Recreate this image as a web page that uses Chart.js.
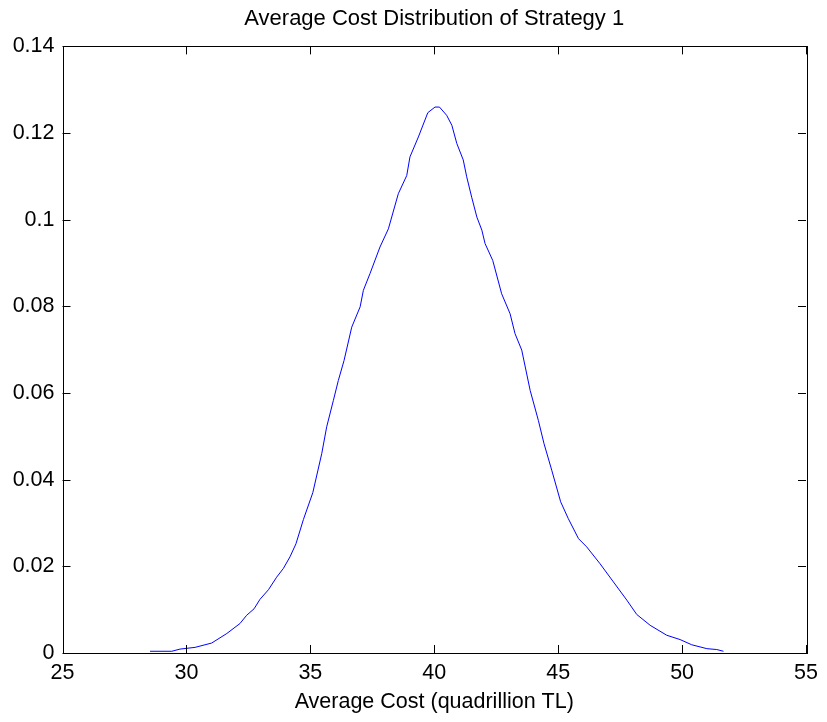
<!DOCTYPE html>
<html>
<head>
<meta charset="utf-8">
<title>Average Cost Distribution of Strategy 1</title>
<script src="https://cdn.jsdelivr.net/npm/chart.js@4.4.1/dist/chart.umd.min.js"></script>
<style>
  html, body { margin: 0; padding: 0; background: #fff; }
  #costChart { display: block; }
</style>
</head>
<body>
<canvas id="costChart" width="827" height="722"></canvas>
<script>
// average cost (quadrillion TL) and its estimated density
const costX = [
  28.53, 29.41, 29.74, 30.35, 31.02, 31.63, 32.16, 32.43, 32.73, 32.97,
  33.31, 33.64, 33.91, 34.18, 34.42, 34.72, 35.10, 35.46, 35.66, 35.93,
  36.13, 36.36, 36.67, 37.01, 37.14, 37.41, 37.81, 38.15, 38.55, 38.89,
  39.02, 39.36, 39.74, 40.03, 40.21, 40.50, 40.71, 40.91, 41.17, 41.31,
  41.51, 41.72, 41.92, 42.05, 42.36, 42.72, 43.06, 43.26, 43.53, 43.87,
  44.20, 44.43, 44.74, 45.10, 45.41, 45.82, 46.15, 46.69, 47.23, 47.77,
  48.17, 48.71, 49.38, 49.92, 50.39, 51.00, 51.40, 51.67
];
const density = [
  0.0004, 0.0004, 0.0009, 0.0013, 0.0023, 0.0045, 0.0068, 0.0087, 0.0102, 0.0124,
  0.0146, 0.0175, 0.0195, 0.0222, 0.0252, 0.0308, 0.0370, 0.0460, 0.0522, 0.0583,
  0.0629, 0.0675, 0.0752, 0.0799, 0.0837, 0.0876, 0.0937, 0.0979, 0.1060, 0.1102,
  0.1145, 0.1191, 0.1247, 0.1260, 0.1260, 0.1241, 0.1218, 0.1176, 0.1138, 0.1099,
  0.1052, 0.1006, 0.0976, 0.0945, 0.0906, 0.0829, 0.0783, 0.0737, 0.0699, 0.0606,
  0.0537, 0.0483, 0.0422, 0.0349, 0.0310, 0.0264, 0.0245, 0.0206, 0.0164, 0.0122,
  0.0089, 0.0064, 0.0041, 0.0031, 0.0019, 0.0010, 0.0008, 0.0004
];

const xTickValues = [25, 30, 35, 40, 45, 50, 55];
const xTickLabels = ['25', '30', '35', '40', '45', '50', '55'];
const yTickValues = [0, 0.02, 0.04, 0.06, 0.08, 0.1, 0.12, 0.14];
const yTickLabels = ['0', '0.02', '0.04', '0.06', '0.08', '0.1', '0.12', '0.14'];

const FONT = '"Liberation Sans", Arial, Helvetica, sans-serif';
const TICK_LEN = 8;

// closed axes box with tick marks pointing inwards on all four sides
const boxTicks = {
  id: 'boxTicks',
  afterDatasetsDraw(chart) {
    const { ctx, chartArea: a, scales: { x, y } } = chart;
    ctx.save();
    ctx.strokeStyle = '#000';
    ctx.lineWidth = 1;
    ctx.beginPath();
    x.ticks.forEach(t => {
      const px = Math.round(x.getPixelForValue(t.value)) + 0.5;
      ctx.moveTo(px, a.bottom);
      ctx.lineTo(px, a.bottom - TICK_LEN);
      ctx.moveTo(px, a.top);
      ctx.lineTo(px, a.top + TICK_LEN);
    });
    y.ticks.forEach(t => {
      const py = Math.round(y.getPixelForValue(t.value)) + 0.5;
      ctx.moveTo(a.left, py);
      ctx.lineTo(a.left + TICK_LEN, py);
      ctx.moveTo(a.right, py);
      ctx.lineTo(a.right - TICK_LEN, py);
    });
    ctx.stroke();
    ctx.strokeRect(Math.round(a.left) + 0.5, Math.round(a.top) + 0.5,
      Math.round(a.right - a.left), Math.round(a.bottom - a.top));
    ctx.restore();
  }
};

new Chart(document.getElementById('costChart'), {
  type: 'scatter',
  data: {
    datasets: [{
      data: costX.map((c, i) => ({ x: c, y: density[i] })),
      showLine: true,
      borderColor: '#0000ff',
      borderWidth: 1,
      pointRadius: 0,
      tension: 0
    }]
  },
  options: {
    responsive: false,
    animation: false,
    devicePixelRatio: 1,
    layout: { padding: { left: 0, right: 21, top: 0, bottom: 0 } },
    plugins: {
      legend: { display: false },
      tooltip: { enabled: false },
      title: {
        display: true,
        fullSize: false,  // centre over the plot area, not the canvas
        text: 'Average Cost Distribution of Strategy 1',
        color: '#000',
        font: { family: FONT, size: 22, weight: 'normal' },
        padding: { top: 6, bottom: 14 }
      }
    },
    scales: {
      x: {
        type: 'linear',
        min: 25,
        max: 55,
        afterBuildTicks: s => { s.ticks = xTickValues.map(v => ({ value: v })); },
        afterFit: s => { s.height = 69; },
        grid: { display: false, drawTicks: false },
        border: { display: false },
        ticks: {
          color: '#000',
          padding: 7,
          maxRotation: 0,
          font: { family: FONT, size: 21.5 },
          callback: (v, i) => xTickLabels[i]
        },
        title: {
          display: true,
          text: 'Average Cost (quadrillion TL)',
          color: '#000',
          font: { family: FONT, size: 21.5 },
          padding: { top: 0, bottom: 7 }
        }
      },
      y: {
        min: 0,
        max: 0.14,
        afterBuildTicks: s => { s.ticks = yTickValues.map(v => ({ value: v })); },
        afterFit: s => { s.width = 62.5; },
        grid: { display: false, drawTicks: false },
        border: { display: false },
        ticks: {
          color: '#000',
          padding: 8,
          font: { family: FONT, size: 21.5 },
          callback: (v, i) => yTickLabels[i]
        }
      }
    }
  },
  plugins: [boxTicks]
});
</script>
</body>
</html>
